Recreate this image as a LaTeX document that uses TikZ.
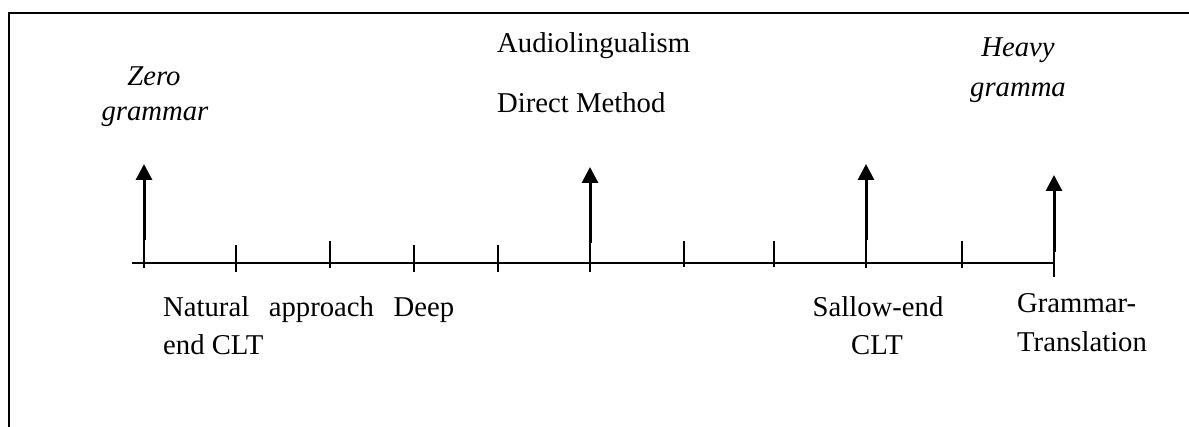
\documentclass[tikz,border=0pt]{standalone}
\usepackage{fontspec}
\setmainfont{Liberation Serif}
\usetikzlibrary{arrows.meta}
\begin{document}
\begin{tikzpicture}[x=1pt,y=-1pt,
  lbl/.style={inner sep=0pt,font=\fontsize{28.7}{34}\selectfont},
  tickline/.style={line width=1.6pt},
  axisline/.style={line width=2pt},
  uparrow/.style={line width=3pt,-{Triangle[length=16pt,width=16pt]}},
  frameline/.style={line width=2pt}]
\useasboundingbox (0,0) rectangle (1189,427);
% frame
\coordinate (fbl) at (9,427);
\coordinate (ftl) at (9,13);
\coordinate (ftr) at (1189,13);
\draw[frameline] (fbl) -- (ftl) -- (ftr);
% axis
\coordinate (ax0) at (132,263);
\coordinate (ax1) at (1054,263);
\draw[axisline] (ax0) -- (ax1);
% ticks
\foreach \n/\x/\a/\b in {t1/144/240/268, t2/236/245/272, t3/330/241/268, t4/414/245/272,
  t5/498/245/272, t6/590/243/272, t7/684/241/267, t8/774/241/267, t9/866/240/268,
  t10/962/241/268, t11/1054/252/277}{
  \coordinate (\n a) at (\x,\a);
  \coordinate (\n b) at (\x,\b);
  \draw[tickline] (\n a) -- (\n b);
}
% arrows
\coordinate (h1) at (144,164);
\coordinate (h6) at (590,167);
\coordinate (h9) at (866,164);
\coordinate (h11) at (1054,175);
\draw[uparrow] (t1a) -- (h1);
\draw[uparrow] (t6a) -- (h6);
\draw[uparrow] (t9a) -- (h9);
\draw[uparrow] (t11a) -- (h11);
% labels
\node[lbl,anchor=base] (zero) at (154,86) {\itshape Zero};
\node[lbl,anchor=base] (zerog) at (155,121) {\itshape grammar};
\node[lbl,anchor=base west] (audio) at (497,53) {Audiolingualism};
\node[lbl,anchor=base west] (direct) at (497,113) {Direct Method};
\node[lbl,anchor=base] (heavy) at (1018,57) {\itshape Heavy};
\node[lbl,anchor=base] (heavyg) at (1018,97) {\itshape gramma};
\node[lbl,anchor=base west] (nat) at (163,317) {\makebox[291pt][s]{Natural approach Deep}};
\node[lbl,anchor=base west] (natb) at (163,355) {end CLT};
\node[lbl,anchor=base] (sallow) at (878,317) {Sallow-end};
\node[lbl,anchor=base] (sallowb) at (877,355) {CLT};
\node[lbl,anchor=base west] (gt) at (1017,313) {Grammar-};
\node[lbl,anchor=base west] (gtb) at (1017,352) {Translation};
\end{tikzpicture}
\end{document}
